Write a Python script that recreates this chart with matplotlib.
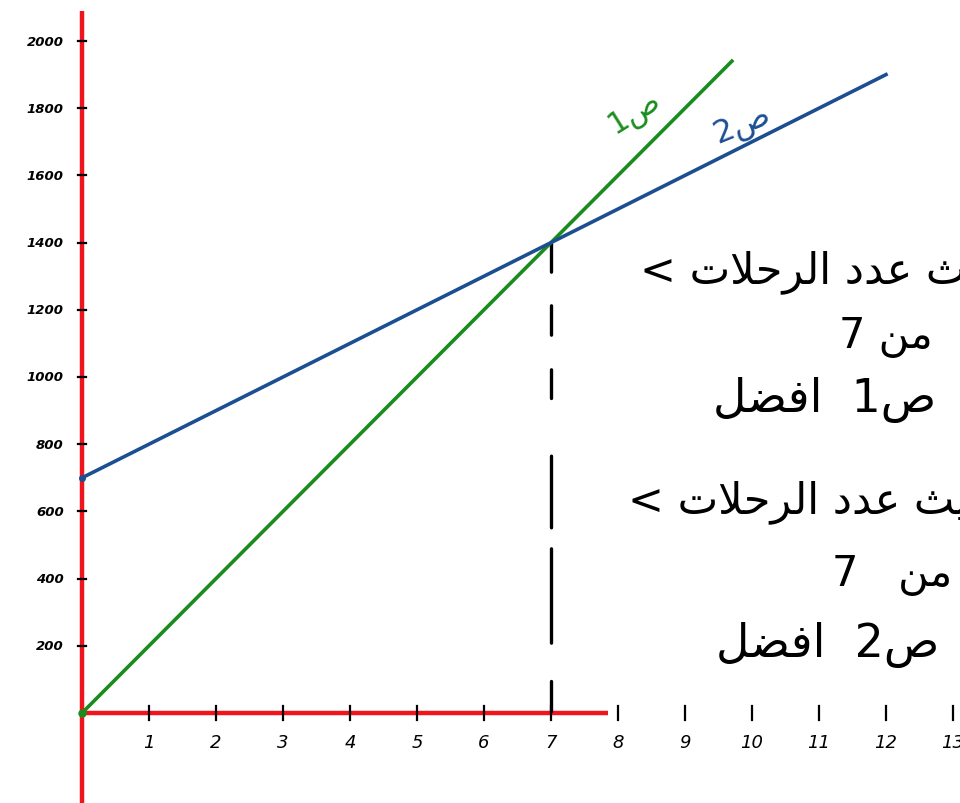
import matplotlib
matplotlib.use("Agg")
import matplotlib.pyplot as plt

# ---------------- data ----------------
green_x = [0, 9.7]
green_y = [0, 1940]          # ص1 = 200 س
blue_x = [0, 12]
blue_y = [700, 1900]         # ص2 = 700 + 100 س
cross_x = 7
cross_y = 1400
x_ticks = [1, 2, 3, 4, 5, 6, 7, 8, 9, 10, 11, 12, 13]
y_ticks = [200, 400, 600, 800, 1000, 1200, 1400, 1600, 1800, 2000]
green_label = "ص1"
blue_label = "ص2"
block1 = ["حيث عدد الرحلات <", "من 7", "ص1  افضل"]
block2 = ["حيث عدد الرحلات <", "من   7", "ص2  افضل"]

# ---------------- simple Arabic shaping (visual order) ----------------
FORMS = {  # iso, fin, ini, med
    'ا': (0xFE8D, 0xFE8E, None, None), 'إ': (0xFE87, 0xFE88, None, None),
    'أ': (0xFE83, 0xFE84, None, None), 'ذ': (0xFEAB, 0xFEAC, None, None),
    'د': (0xFEA9, 0xFEAA, None, None), 'ر': (0xFEAD, 0xFEAE, None, None),
    'ع': (0xFEC9, 0xFECA, 0xFECB, 0xFECC), 'ل': (0xFEDD, 0xFEDE, 0xFEDF, 0xFEE0),
    'ح': (0xFEA1, 0xFEA2, 0xFEA3, 0xFEA4), 'ت': (0xFE95, 0xFE96, 0xFE97, 0xFE98),
    'م': (0xFEE1, 0xFEE2, 0xFEE3, 0xFEE4), 'ن': (0xFEE5, 0xFEE6, 0xFEE7, 0xFEE8),
    'ص': (0xFEB9, 0xFEBA, 0xFEBB, 0xFEBC), 'ف': (0xFED1, 0xFED2, 0xFED3, 0xFED4),
    'ض': (0xFEBD, 0xFEBE, 0xFEBF, 0xFEC0), 'ي': (0xFEF1, 0xFEF2, 0xFEF3, 0xFEF4),
    'ث': (0xFE99, 0xFE9A, 0xFE9B, 0xFE9C),
}
LAM_ALEF = {'ا': (0xFEFB, 0xFEFC), 'إ': (0xFEF9, 0xFEFA), 'أ': (0xFEF7, 0xFEF8)}


def dual(c):
    return c in FORMS and FORMS[c][2] is not None


def shape(text):
    out = []
    i = 0
    prev_dual = False
    while i < len(text):
        c = text[i]
        if c == 'ل' and i + 1 < len(text) and text[i + 1] in LAM_ALEF:
            iso, fin = LAM_ALEF[text[i + 1]]
            out.append(chr(fin if prev_dual else iso))
            prev_dual = False
            i += 2
            continue
        if c in FORMS:
            iso, fin, ini, med = FORMS[c]
            nxt = text[i + 1] if i + 1 < len(text) else ''
            join_next = dual(c) and nxt in FORMS
            if prev_dual and join_next:
                code = med
            elif prev_dual:
                code = fin
            elif join_next:
                code = ini
            else:
                code = iso
            out.append(chr(code))
            prev_dual = dual(c)
        else:
            out.append(c)
            prev_dual = False
        i += 1
    return ''.join(reversed(out))


# ---------------- figure ----------------
W, H = 960, 804
x0_px, y0_px = 82, 714
px_x, px_y = 67.0, 0.336

fig = plt.figure(figsize=(W / 100, H / 100), dpi=100)
ax = fig.add_axes([0, 0, 1, 1])
ax.set_xlim(-x0_px / px_x, (W - x0_px) / px_x)
ax.set_ylim(-(H - y0_px) / px_y, y0_px / px_y)
ax.axis("off")

RED = "#f0141c"
GREEN = "#1a8c1e"
BLUE = "#1c4f92"

# red axes
ax.plot([0, 0], [-300, 2090], color=RED, lw=3.2, solid_capstyle="butt", zorder=2)
ax.plot([0, 7.85], [0, 0], color=RED, lw=3.2, solid_capstyle="butt", zorder=2)

# ticks
for xv in x_ticks:
    ax.plot([xv, xv], [-22, 22], color="black", lw=1.6, zorder=3)
    ax.text(xv, -85, str(xv), ha="center", va="center", fontsize=13,
            fontstyle="italic", color="black", family="DejaVu Sans")
for yv in y_ticks:
    ax.plot([-0.06, 0.06], [yv, yv], color="black", lw=1.6, zorder=3)
    ax.text(-0.27, yv, str(yv), ha="right", va="center", fontsize=9.5,
            fontstyle="italic", fontweight="bold", color="black", family="DejaVu Sans")

# lines
ax.plot(green_x, green_y, color=GREEN, lw=2.6, zorder=4)
ax.plot(blue_x, blue_y, color=BLUE, lw=2.6, zorder=4)
ax.plot([green_x[0]], [green_y[0]], "o", color=GREEN, ms=5, zorder=5)
ax.plot([blue_x[0]], [blue_y[0]], "o", color=BLUE, ms=4, zorder=5)

# hand-drawn style dashed drop line
ax.plot([cross_x, cross_x], [cross_y, -25], color="black", lw=2.4,
        linestyle=(0, (8.6, 10.1, 8.8, 10.4, 8.6, 17.3, 21.5, 6.3, 28.3, 11.5, 9, 20)),
        solid_capstyle="round", dash_capstyle="round", zorder=3)

# line labels
ax.text(8.25, 1790, shape(green_label), color=GREEN, fontsize=22,
        rotation=32, ha="center", va="center", family="DejaVu Sans")
ax.text(9.85, 1755, shape(blue_label), color=BLUE, fontsize=23,
        rotation=22, ha="center", va="center", family="DejaVu Sans")

# note blocks
ax.text(8.33, 1315, shape(block1[0]), ha="left", va="center", fontsize=31,
        color="black", family="DejaVu Sans")
ax.text(12.7, 1122, shape(block1[1]), ha="right", va="center", fontsize=30,
        color="black", family="DejaVu Sans")
ax.text(12.75, 935, shape(block1[2]), ha="right", va="center", fontsize=33,
        color="black", family="DejaVu Sans")

ax.text(8.15, 631, shape(block2[0]), ha="left", va="center", fontsize=31,
        color="black", family="DejaVu Sans")
ax.text(11.2, 414, shape(block2[1]), ha="left", va="center", fontsize=30,
        color="black", family="DejaVu Sans")
ax.text(12.8, 205, shape(block2[2]), ha="right", va="center", fontsize=33,
        color="black", family="DejaVu Sans")

fig.savefig("out.png", dpi=100)
